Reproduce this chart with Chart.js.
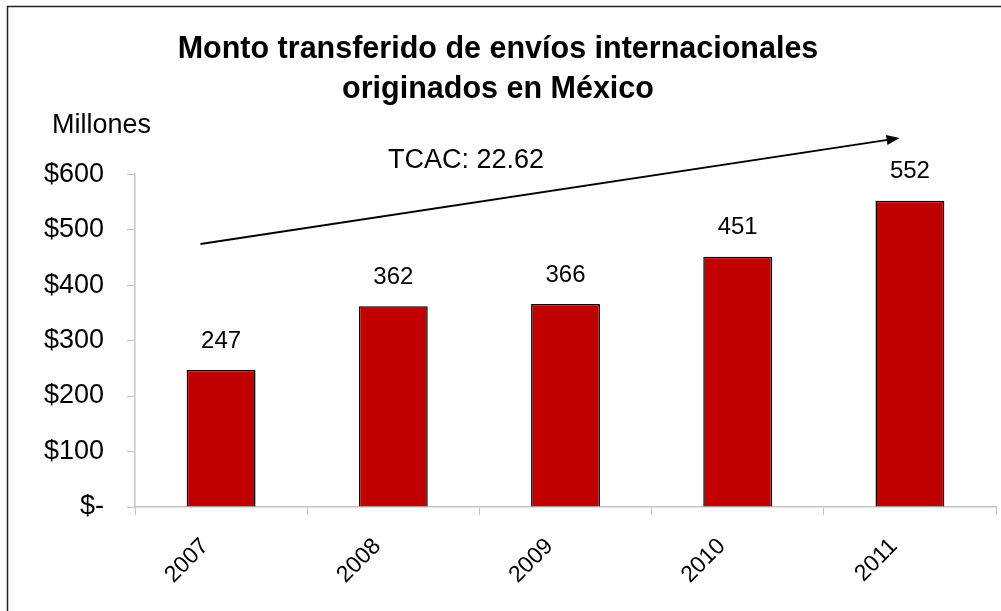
<!DOCTYPE html>
<html>
<head>
<meta charset="utf-8">
<script src="https://cdn.jsdelivr.net/npm/chart.js@4/dist/chart.umd.min.js"></script>
<style>
    html, body { margin: 0; padding: 0; background: #fff; }
    #wrap { width: 1001px; height: 611px; }
</style>
</head>
<body>
<div id="wrap"><canvas id="chart"></canvas></div>
<script>
// 데이터
const years   = ["2007", "2008", "2009", "2010", "2011"];
const montos  = [247, 362, 366, 451, 552];
const yTicks  = [0, 100, 200, 300, 400, 500, 600];
const tituloLineas = ["Monto transferido de envíos internacionales", "originados en México"];
const tcacTexto = "TCAC: 22.62";

// 추세 화살표 (축 좌표: 카테고리 인덱스, 값)
const flecha = { desde: [-0.12, 474], hasta: [3.94, 665] };

const FONT = "'Liberation Sans', Arial, sans-serif";
const GRIS = "#c4c4c4";

// 막대 위 값, 외곽선, 화살표, 보조 텍스트
const extras = {
    id: "extras",
    afterDraw(chart) {
        const ctx = chart.ctx;
        const xs = chart.scales.x, ys = chart.scales.y;
        ctx.save();

        // 외곽 테두리
        ctx.strokeStyle = "#222";
        ctx.lineWidth = 1.5;
        ctx.strokeRect(7.5, 6.5, 1010, 620);

        // 값 라벨
        ctx.fillStyle = "#000";
        ctx.font = "24px " + FONT;
        ctx.textAlign = "center";
        ctx.textBaseline = "middle";
        chart.getDatasetMeta(0).data.forEach((bar, i) => {
            ctx.fillText(String(montos[i]), bar.x, bar.y - 29);
        });

        // Millones / TCAC
        ctx.textAlign = "left";
        ctx.textBaseline = "alphabetic";
        ctx.font = "27px " + FONT;
        ctx.fillText("Millones", 52, 133);
        ctx.fillText(tcacTexto, 388, 168);

        // 화살표
        const x1 = xs.getPixelForValue(flecha.desde[0]), y1 = ys.getPixelForValue(flecha.desde[1]);
        const x2 = xs.getPixelForValue(flecha.hasta[0]), y2 = ys.getPixelForValue(flecha.hasta[1]);
        const ang = Math.atan2(y2 - y1, x2 - x1);
        const head = 13;
        ctx.strokeStyle = "#000";
        ctx.lineWidth = 2;
        ctx.beginPath();
        ctx.moveTo(x1, y1);
        ctx.lineTo(x2 - head * 0.8 * Math.cos(ang), y2 - head * 0.8 * Math.sin(ang));
        ctx.stroke();
        ctx.beginPath();
        ctx.moveTo(x2, y2);
        ctx.lineTo(x2 - head * Math.cos(ang) + 5 * Math.sin(ang), y2 - head * Math.sin(ang) - 5 * Math.cos(ang));
        ctx.lineTo(x2 - head * Math.cos(ang) - 5 * Math.sin(ang), y2 - head * Math.sin(ang) + 5 * Math.cos(ang));
        ctx.closePath();
        ctx.fill();

        ctx.restore();
    },
};

new Chart(document.querySelector("#chart"), {
    type: "bar",
    data: {
        labels: years,
        datasets: [{
            data: montos,
            backgroundColor: "#c00000",
            borderColor: "#000",
            borderWidth: 1.5,
            categoryPercentage: 0.8,
            barPercentage: 0.5,
        }],
    },
    options: {
        responsive: true,
        maintainAspectRatio: false,
        animation: false,
        layout: { padding: { top: 0, right: 5, bottom: 0, left: 0 } },
        plugins: {
            legend: { display: false },
            tooltip: { enabled: false },
            title: {
                display: true,
                text: tituloLineas,
                color: "#000",
                font: { family: FONT, size: 30.5, weight: "bold", lineHeight: 1.33 },
                padding: { top: 29, bottom: 64 },
            },
        },
        scales: {
            x: {
                grid: { display: true, drawOnChartArea: false, color: GRIS, tickLength: 8 },
                border: { color: GRIS, width: 1.5 },
                ticks: {
                    color: "#000",
                    font: { family: FONT, size: 23 },
                    minRotation: 45,
                    maxRotation: 45,
                    padding: 18,
                    labelOffset: -16,
                },
                afterFit(scale) { scale.height = 104; },
            },
            y: {
                min: 0,
                max: 600,
                afterBuildTicks(scale) { scale.ticks = yTicks.map(v => ({ value: v })); },
                grid: { display: true, drawOnChartArea: false, color: GRIS, tickLength: 8 },
                border: { color: GRIS, width: 1.5 },
                ticks: {
                    color: "#000",
                    font: { family: FONT, size: 27 },
                    padding: 23,
                    callback: v => v === 0 ? "$-" : "$" + v,
                },
                afterFit(scale) { scale.width = 135; },
            },
        },
    },
    plugins: [extras],
});
</script>
</body>
</html>
